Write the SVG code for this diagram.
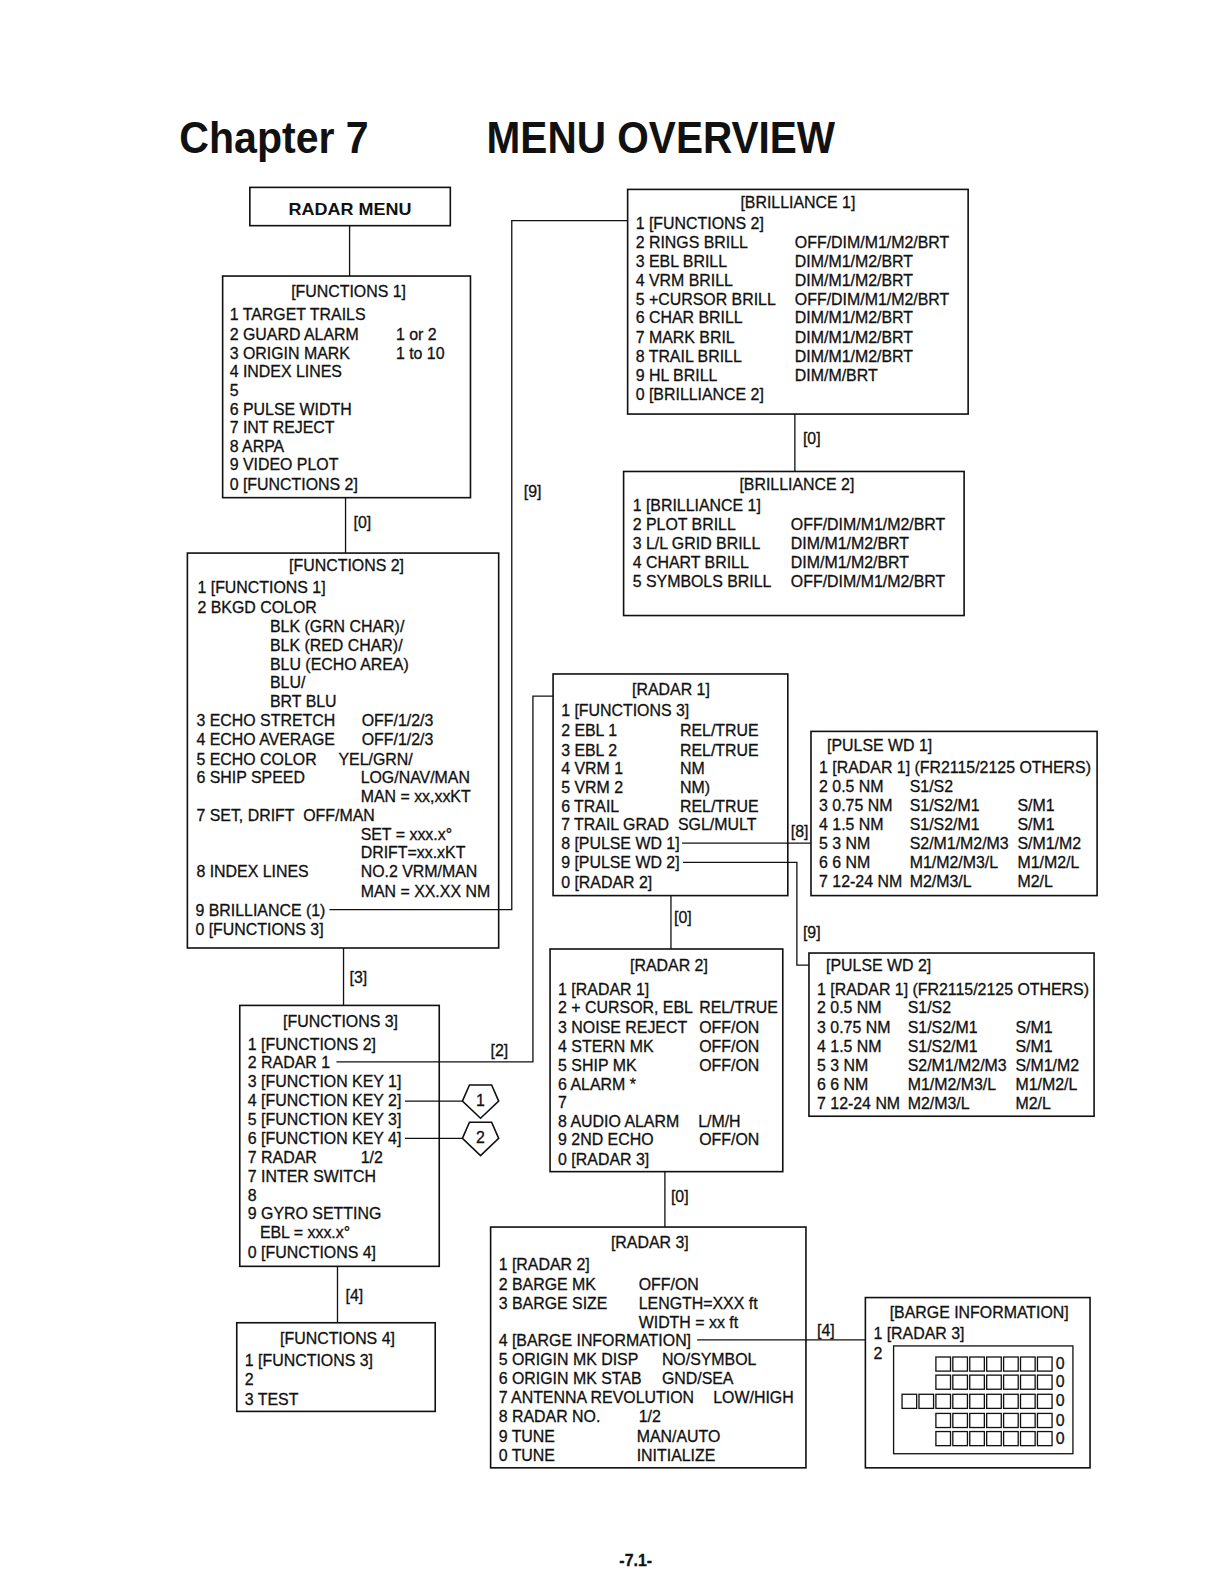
<svg xmlns="http://www.w3.org/2000/svg" width="1220" height="1580" viewBox="0 0 1220 1580">
<style>
.box{fill:#fff;stroke:#111;stroke-width:1.6}
.t{font-family:"Liberation Sans",Arial,Helvetica,sans-serif;font-size:15.8px;fill:#111;stroke:#111;stroke-width:0.3}
.c{text-anchor:middle}
.ln{fill:none;stroke:#111;stroke-width:1.3}
.sq{fill:#fff;stroke:#111;stroke-width:1.3}
.h{font-family:"Liberation Sans",Arial,Helvetica,sans-serif;font-weight:bold;fill:#111}
</style>
<rect width="1220" height="1580" fill="#fff"/>
<g transform="scale(1.00743)">
<g id="title">
<text class="h" x="178" y="152" font-size="44" textLength="188" lengthAdjust="spacingAndGlyphs">Chapter 7</text>
<text class="h" x="483" y="152" font-size="44" textLength="346" lengthAdjust="spacingAndGlyphs">MENU OVERVIEW</text>
</g>

<g id="radar-menu">
<rect class="box" x="248" y="186" width="199" height="38"/>
<text class="h c" x="347.5" y="213" font-size="17" textLength="122" lengthAdjust="spacingAndGlyphs">RADAR MENU</text>
</g>

<g id="functions1">
<rect class="box" x="221" y="274" width="246" height="220"/>
<text class="t c" x="346" y="295">[FUNCTIONS 1]</text>
<text class="t" x="228" y="318">1 TARGET TRAILS</text>
<text class="t" x="228" y="337">2 GUARD ALARM</text>
<text class="t" x="393" y="337">1 or 2</text>
<text class="t" x="228" y="356">3 ORIGIN MARK</text>
<text class="t" x="393" y="356">1 to 10</text>
<text class="t" x="228" y="374">4 INDEX LINES</text>
<text class="t" x="228" y="393">5</text>
<text class="t" x="228" y="412">6 PULSE WIDTH</text>
<text class="t" x="228" y="430">7 INT REJECT</text>
<text class="t" x="228" y="449">8 ARPA</text>
<text class="t" x="228" y="467">9 VIDEO PLOT</text>
<text class="t" x="228" y="486">0 [FUNCTIONS 2]</text>
</g>

<g id="functions2">
<rect class="box" x="186" y="549" width="309" height="392"/>
<text class="t c" x="344" y="567">[FUNCTIONS 2]</text>
<text class="t" x="196" y="589">1 [FUNCTIONS 1]</text>
<text class="t" x="196" y="608">2 BKGD COLOR</text>
<text class="t" x="268" y="627">BLK (GRN CHAR)/</text>
<text class="t" x="268" y="646">BLK (RED CHAR)/</text>
<text class="t" x="268" y="665">BLU (ECHO AREA)</text>
<text class="t" x="268" y="683">BLU/</text>
<text class="t" x="268" y="702">BRT BLU</text>
<text class="t" x="195" y="721">3 ECHO STRETCH</text>
<text class="t" x="359" y="721">OFF/1/2/3</text>
<text class="t" x="195" y="740">4 ECHO AVERAGE</text>
<text class="t" x="359" y="740">OFF/1/2/3</text>
<text class="t" x="195" y="759">5 ECHO COLOR</text>
<text class="t" x="336" y="759">YEL/GRN/</text>
<text class="t" x="195" y="777">6 SHIP SPEED</text>
<text class="t" x="358" y="777">LOG/NAV/MAN</text>
<text class="t" x="358" y="796">MAN = xx,xxKT</text>
<text class="t" x="195" y="815">7 SET, DRIFT</text>
<text class="t" x="301" y="815">OFF/MAN</text>
<text class="t" x="358" y="834">SET = xxx.x°</text>
<text class="t" x="358" y="852">DRIFT=xx.xKT</text>
<text class="t" x="195" y="871">8 INDEX LINES</text>
<text class="t" x="358" y="871">NO.2 VRM/MAN</text>
<text class="t" x="358" y="890">MAN = XX.XX NM</text>
<text class="t" x="194" y="909">9 BRILLIANCE (1)</text>
<text class="t" x="194" y="928">0 [FUNCTIONS 3]</text>
</g>

<g id="functions3">
<rect class="box" x="238" y="998" width="198" height="259"/>
<text class="t c" x="338" y="1019">[FUNCTIONS 3]</text>
<text class="t" x="246" y="1042">1 [FUNCTIONS 2]</text>
<text class="t" x="246" y="1060">2 RADAR 1</text>
<text class="t" x="246" y="1079">3 [FUNCTION KEY 1]</text>
<text class="t" x="246" y="1098">4 [FUNCTION KEY 2]</text>
<text class="t" x="246" y="1117">5 [FUNCTION KEY 3]</text>
<text class="t" x="246" y="1136">6 [FUNCTION KEY 4]</text>
<text class="t" x="246" y="1154">7 RADAR</text>
<text class="t" x="358" y="1154">1/2</text>
<text class="t" x="246" y="1173">7 INTER SWITCH</text>
<text class="t" x="246" y="1192">8</text>
<text class="t" x="246" y="1210">9 GYRO SETTING</text>
<text class="t" x="258" y="1229">EBL = xxx.x°</text>
<text class="t" x="246" y="1249">0 [FUNCTIONS 4]</text>
</g>

<g id="key1">
<polygon class="box" points="459,1093 466,1077 488,1077 495,1093 477,1110"/>
<text class="t c" x="477" y="1098">1</text>
</g>
<g id="key2">
<polygon class="box" points="459,1130 466,1114 488,1114 495,1130 477,1147"/>
<text class="t c" x="477" y="1135">2</text>
</g>

<g id="functions4">
<rect class="box" x="235" y="1313" width="197" height="88"/>
<text class="t c" x="335" y="1334">[FUNCTIONS 4]</text>
<text class="t" x="243" y="1356">1 [FUNCTIONS 3]</text>
<text class="t" x="243" y="1375">2</text>
<text class="t" x="243" y="1395">3 TEST</text>
</g>

<g id="brilliance1">
<rect class="box" x="623" y="188" width="338" height="223"/>
<text class="t c" x="792" y="206">[BRILLIANCE 1]</text>
<text class="t" x="631" y="227">1 [FUNCTIONS 2]</text>
<text class="t" x="631" y="246">2 RINGS BRILL</text>
<text class="t" x="789" y="246">OFF/DIM/M1/M2/BRT</text>
<text class="t" x="631" y="265">3 EBL BRILL</text>
<text class="t" x="789" y="265">DIM/M1/M2/BRT</text>
<text class="t" x="631" y="284">4 VRM BRILL</text>
<text class="t" x="789" y="284">DIM/M1/M2/BRT</text>
<text class="t" x="631" y="303">5 +CURSOR BRILL</text>
<text class="t" x="789" y="303">OFF/DIM/M1/M2/BRT</text>
<text class="t" x="631" y="321">6 CHAR BRILL</text>
<text class="t" x="789" y="321">DIM/M1/M2/BRT</text>
<text class="t" x="631" y="340">7 MARK BRIL</text>
<text class="t" x="789" y="340">DIM/M1/M2/BRT</text>
<text class="t" x="631" y="359">8 TRAIL BRILL</text>
<text class="t" x="789" y="359">DIM/M1/M2/BRT</text>
<text class="t" x="631" y="378">9 HL BRILL</text>
<text class="t" x="789" y="378">DIM/M/BRT</text>
<text class="t" x="631" y="397">0 [BRILLIANCE 2]</text>
</g>

<g id="brilliance2">
<rect class="box" x="619" y="468" width="338" height="143"/>
<text class="t c" x="791" y="486">[BRILLIANCE 2]</text>
<text class="t" x="628" y="507">1 [BRILLIANCE 1]</text>
<text class="t" x="628" y="526">2 PLOT BRILL</text>
<text class="t" x="785" y="526">OFF/DIM/M1/M2/BRT</text>
<text class="t" x="628" y="545">3 L/L GRID BRILL</text>
<text class="t" x="785" y="545">DIM/M1/M2/BRT</text>
<text class="t" x="628" y="564">4 CHART BRILL</text>
<text class="t" x="785" y="564">DIM/M1/M2/BRT</text>
<text class="t" x="628" y="583">5 SYMBOLS BRILL</text>
<text class="t" x="785" y="583">OFF/DIM/M1/M2/BRT</text>
</g>

<g id="radar1">
<rect class="box" x="549" y="669" width="233" height="220"/>
<text class="t c" x="666" y="690">[RADAR 1]</text>
<text class="t" x="557" y="711">1 [FUNCTIONS 3]</text>
<text class="t" x="557" y="731">2 EBL 1</text>
<text class="t" x="675" y="731">REL/TRUE</text>
<text class="t" x="557" y="750">3 EBL 2</text>
<text class="t" x="675" y="750">REL/TRUE</text>
<text class="t" x="557" y="768">4 VRM 1</text>
<text class="t" x="675" y="768">NM</text>
<text class="t" x="557" y="787">5 VRM 2</text>
<text class="t" x="675" y="787">NM)</text>
<text class="t" x="557" y="806">6 TRAIL</text>
<text class="t" x="675" y="806">REL/TRUE</text>
<text class="t" x="557" y="824">7 TRAIL GRAD</text>
<text class="t" x="673" y="824">SGL/MULT</text>
<text class="t" x="557" y="843">8 [PULSE WD 1]</text>
<text class="t" x="557" y="862">9 [PULSE WD 2]</text>
<text class="t" x="557" y="881">0 [RADAR 2]</text>
</g>

<g id="pulsewd1">
<rect class="box" x="805" y="726" width="284" height="163"/>
<text class="t" x="821" y="745">[PULSE WD 1]</text>
<text class="t" x="813" y="767">1 [RADAR 1] (FR2115/2125 OTHERS)</text>
<text class="t" x="813" y="786">2 0.5 NM</text>
<text class="t" x="903" y="786">S1/S2</text>
<text class="t" x="813" y="805">3 0.75 NM</text>
<text class="t" x="903" y="805">S1/S2/M1</text>
<text class="t" x="1010" y="805">S/M1</text>
<text class="t" x="813" y="824">4 1.5 NM</text>
<text class="t" x="903" y="824">S1/S2/M1</text>
<text class="t" x="1010" y="824">S/M1</text>
<text class="t" x="813" y="843">5 3 NM</text>
<text class="t" x="903" y="843">S2/M1/M2/M3</text>
<text class="t" x="1010" y="843">S/M1/M2</text>
<text class="t" x="813" y="862">6 6 NM</text>
<text class="t" x="903" y="862">M1/M2/M3/L</text>
<text class="t" x="1010" y="862">M1/M2/L</text>
<text class="t" x="813" y="880">7 12-24 NM</text>
<text class="t" x="903" y="880">M2/M3/L</text>
<text class="t" x="1010" y="880">M2/L</text>
</g>

<g id="pulsewd2">
<rect class="box" x="803" y="946" width="283" height="162"/>
<text class="t" x="820" y="964">[PULSE WD 2]</text>
<text class="t" x="811" y="988">1 [RADAR 1] (FR2115/2125 OTHERS)</text>
<text class="t" x="811" y="1006">2 0.5 NM</text>
<text class="t" x="901" y="1006">S1/S2</text>
<text class="t" x="811" y="1025">3 0.75 NM</text>
<text class="t" x="901" y="1025">S1/S2/M1</text>
<text class="t" x="1008" y="1025">S/M1</text>
<text class="t" x="811" y="1044">4 1.5 NM</text>
<text class="t" x="901" y="1044">S1/S2/M1</text>
<text class="t" x="1008" y="1044">S/M1</text>
<text class="t" x="811" y="1063">5 3 NM</text>
<text class="t" x="901" y="1063">S2/M1/M2/M3</text>
<text class="t" x="1008" y="1063">S/M1/M2</text>
<text class="t" x="811" y="1082">6 6 NM</text>
<text class="t" x="901" y="1082">M1/M2/M3/L</text>
<text class="t" x="1008" y="1082">M1/M2/L</text>
<text class="t" x="811" y="1101">7 12-24 NM</text>
<text class="t" x="901" y="1101">M2/M3/L</text>
<text class="t" x="1008" y="1101">M2/L</text>
</g>

<g id="radar2">
<rect class="box" x="546" y="942" width="231" height="221"/>
<text class="t c" x="664" y="964">[RADAR 2]</text>
<text class="t" x="554" y="988">1 [RADAR 1]</text>
<text class="t" x="554" y="1006">2 + CURSOR, EBL</text>
<text class="t" x="694" y="1006">REL/TRUE</text>
<text class="t" x="554" y="1025">3 NOISE REJECT</text>
<text class="t" x="694" y="1025">OFF/ON</text>
<text class="t" x="554" y="1044">4 STERN MK</text>
<text class="t" x="694" y="1044">OFF/ON</text>
<text class="t" x="554" y="1063">5 SHIP MK</text>
<text class="t" x="694" y="1063">OFF/ON</text>
<text class="t" x="554" y="1082">6 ALARM *</text>
<text class="t" x="554" y="1100">7</text>
<text class="t" x="554" y="1119">8 AUDIO ALARM</text>
<text class="t" x="693" y="1119">L/M/H</text>
<text class="t" x="554" y="1137">9 2ND ECHO</text>
<text class="t" x="694" y="1137">OFF/ON</text>
<text class="t" x="554" y="1156">0 [RADAR 3]</text>
</g>

<g id="radar3">
<rect class="box" x="487" y="1218" width="313" height="239"/>
<text class="t c" x="645" y="1239">[RADAR 3]</text>
<text class="t" x="495" y="1261">1 [RADAR 2]</text>
<text class="t" x="495" y="1280">2 BARGE MK</text>
<text class="t" x="634" y="1280">OFF/ON</text>
<text class="t" x="495" y="1299">3 BARGE SIZE</text>
<text class="t" x="634" y="1299">LENGTH=XXX ft</text>
<text class="t" x="634" y="1318">WIDTH = xx ft</text>
<text class="t" x="495" y="1336">4 [BARGE INFORMATION]</text>
<text class="t" x="495" y="1355">5 ORIGIN MK DISP</text>
<text class="t" x="657" y="1355">NO/SYMBOL</text>
<text class="t" x="495" y="1374">6 ORIGIN MK STAB</text>
<text class="t" x="657" y="1374">GND/SEA</text>
<text class="t" x="495" y="1393">7 ANTENNA REVOLUTION</text>
<text class="t" x="708" y="1393">LOW/HIGH</text>
<text class="t" x="495" y="1412">8 RADAR NO.</text>
<text class="t" x="634" y="1412">1/2</text>
<text class="t" x="495" y="1431">9 TUNE</text>
<text class="t" x="632" y="1431">MAN/AUTO</text>
<text class="t" x="495" y="1450">0 TUNE</text>
<text class="t" x="632" y="1450">INITIALIZE</text>
</g>

<g id="barge-information">
<rect class="box" x="859" y="1288" width="223" height="169"/>
<text class="t c" x="972" y="1308">[BARGE INFORMATION]</text>
<text class="t" x="867" y="1329">1 [RADAR 3]</text>
<text class="t" x="867" y="1349">2</text>
<rect class="ln" x="887" y="1336" width="178" height="107"/>
<g id="barge-grid">
<rect class="sq" x="929" y="1347" width="14.5" height="14"/><rect class="sq" x="945.8" y="1347" width="14.5" height="14"/><rect class="sq" x="962.6" y="1347" width="14.5" height="14"/><rect class="sq" x="979.4" y="1347" width="14.5" height="14"/><rect class="sq" x="996.2" y="1347" width="14.5" height="14"/><rect class="sq" x="1013" y="1347" width="14.5" height="14"/><rect class="sq" x="1029.8" y="1347" width="14.5" height="14"/>
<rect class="sq" x="929" y="1365" width="14.5" height="14"/><rect class="sq" x="945.8" y="1365" width="14.5" height="14"/><rect class="sq" x="962.6" y="1365" width="14.5" height="14"/><rect class="sq" x="979.4" y="1365" width="14.5" height="14"/><rect class="sq" x="996.2" y="1365" width="14.5" height="14"/><rect class="sq" x="1013" y="1365" width="14.5" height="14"/><rect class="sq" x="1029.8" y="1365" width="14.5" height="14"/>
<rect class="sq" x="895.4" y="1384" width="14.5" height="14"/><rect class="sq" x="912.2" y="1384" width="14.5" height="14"/><rect class="sq" x="929" y="1384" width="14.5" height="14"/><rect class="sq" x="945.8" y="1384" width="14.5" height="14"/><rect class="sq" x="962.6" y="1384" width="14.5" height="14"/><rect class="sq" x="979.4" y="1384" width="14.5" height="14"/><rect class="sq" x="996.2" y="1384" width="14.5" height="14"/><rect class="sq" x="1013" y="1384" width="14.5" height="14"/><rect class="sq" x="1029.8" y="1384" width="14.5" height="14"/>
<rect class="sq" x="929" y="1403" width="14.5" height="14"/><rect class="sq" x="945.8" y="1403" width="14.5" height="14"/><rect class="sq" x="962.6" y="1403" width="14.5" height="14"/><rect class="sq" x="979.4" y="1403" width="14.5" height="14"/><rect class="sq" x="996.2" y="1403" width="14.5" height="14"/><rect class="sq" x="1013" y="1403" width="14.5" height="14"/><rect class="sq" x="1029.8" y="1403" width="14.5" height="14"/>
<rect class="sq" x="929" y="1421" width="14.5" height="14"/><rect class="sq" x="945.8" y="1421" width="14.5" height="14"/><rect class="sq" x="962.6" y="1421" width="14.5" height="14"/><rect class="sq" x="979.4" y="1421" width="14.5" height="14"/><rect class="sq" x="996.2" y="1421" width="14.5" height="14"/><rect class="sq" x="1013" y="1421" width="14.5" height="14"/><rect class="sq" x="1029.8" y="1421" width="14.5" height="14"/>
<text class="t" x="1048" y="1359">0</text>
<text class="t" x="1048" y="1377">0</text>
<text class="t" x="1048" y="1396">0</text>
<text class="t" x="1048" y="1415">0</text>
<text class="t" x="1048" y="1433">0</text>
</g>
</g>

<g id="connectors">
<path class="ln" d="M347,224V274"/>
<path class="ln" d="M343,494V549"/>
<path class="ln" d="M341,941V998"/>
<path class="ln" d="M335,1257V1313"/>
<path class="ln" d="M327,903H508V219H623"/>
<path class="ln" d="M789,411V468"/>
<path class="ln" d="M334,1054H529V691H549"/>
<path class="ln" d="M402,1093H459"/>
<path class="ln" d="M402,1130H459"/>
<path class="ln" d="M677,837H805"/>
<path class="ln" d="M678,856H791V958H803"/>
<path class="ln" d="M666,889V942"/>
<path class="ln" d="M660,1163V1218"/>
<path class="ln" d="M692,1330H859"/>
<text class="t" x="351" y="524">[0]</text>
<text class="t" x="347" y="976">[3]</text>
<text class="t" x="343" y="1291">[4]</text>
<text class="t" x="520" y="493">[9]</text>
<text class="t" x="797" y="441">[0]</text>
<text class="t" x="487" y="1048">[2]</text>
<text class="t" x="785" y="831">[8]</text>
<text class="t" x="797" y="931">[9]</text>
<text class="t" x="669" y="916">[0]</text>
<text class="t" x="666" y="1193">[0]</text>
<text class="t" x="811" y="1326">[4]</text>
</g>

<g id="page-number">
<text class="t c" x="631" y="1554" font-weight="bold">-7.1-</text>
</g>
</g>
</svg>
